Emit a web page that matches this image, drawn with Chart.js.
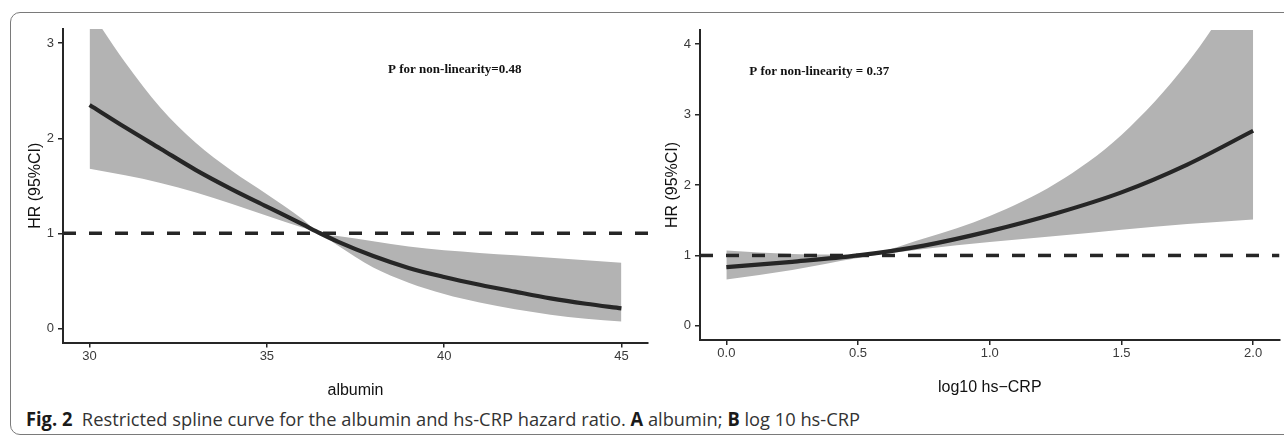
<!DOCTYPE html>
<html>
<head>
<meta charset="utf-8">
<script src="https://cdn.jsdelivr.net/npm/chart.js@4.4.1/dist/chart.umd.min.js"></script>
<style>
  html, body { margin: 0; padding: 0; background: #fff; }
  body { width: 1284px; height: 436px; position: relative; overflow: hidden; }
  #frame { position: absolute; left: 10px; top: 12px; width: 1300px; height: 421px;
           border: 1.5px solid #7a7a7a; border-radius: 10px; }
  #chartA { position: absolute; left: 0; top: 0; }
  #chartB { position: absolute; left: 656px; top: 0; }
  #caption { position: absolute; left: 26px; top: 407px; font-family: "Open Sans", sans-serif;
             font-size: 19px; line-height: 24px; color: #333; white-space: nowrap;
             transform-origin: left top; }
  #caption b { color: #1a1a1a; }
</style>
</head>
<body>
<div id="frame"></div>
<canvas id="chartA" width="656" height="400"></canvas>
<canvas id="chartB" width="628" height="400"></canvas>
<div id="caption"><b>Fig. 2</b>&nbsp; Restricted spline curve for the albumin and hs-CRP hazard ratio. <b>A</b> albumin; <b>B</b> log 10 hs-CRP</div>

<script>
// panel A: albumin
const albumin      = [30, 31, 32, 33, 34, 35, 36, 36.5, 37, 38, 39, 40, 41, 42, 43, 44, 45];
const albuminHR    = [2.35, 2.115, 1.89, 1.665, 1.465, 1.28, 1.095, 1.0, 0.912, 0.76, 0.635, 0.54, 0.458, 0.385, 0.315, 0.258, 0.21];
const albuminUpper = [3.35, 2.80, 2.32, 1.95, 1.66, 1.41, 1.15, 1.0, 0.97, 0.915, 0.86, 0.82, 0.793, 0.768, 0.742, 0.716, 0.69];
const albuminLower = [1.68, 1.61, 1.53, 1.43, 1.31, 1.185, 1.06, 1.0, 0.87, 0.64, 0.48, 0.36, 0.27, 0.20, 0.143, 0.10, 0.07];

// panel B: log10 hs-CRP
const crp      = [0, 0.25, 0.5, 0.75, 1.0, 1.25, 1.5, 1.75, 2.0];
const crpHR    = [0.835, 0.91, 1.0, 1.14, 1.345, 1.595, 1.895, 2.29, 2.77];
const crpUpper = [1.07, 1.02, 1.01, 1.24, 1.56, 2.02, 2.71, 3.73, 5.1];
const crpLower = [0.657, 0.795, 0.965, 1.09, 1.19, 1.275, 1.365, 1.445, 1.51];

// ticks
const albuminTicks = [30, 35, 40, 45];
const albuminTickLabels = ['30', '35', '40', '45'];
const hrTicksA = [0, 1, 2, 3];
const hrTickLabelsA = ['0', '1', '2', '3'];
const crpTicks = [0, 0.5, 1, 1.5, 2];
const crpTickLabels = ['0.0', '0.5', '1.0', '1.5', '2.0'];
const hrTicksB = [0, 1, 2, 3, 4];
const hrTickLabelsB = ['0', '1', '2', '3', '4'];

const refHR = 1;

const ink = '#262626';
const bandGrey = '#b3b3b3';
const tickColor = '#3a3a3a';

// text label inside the panel
const notePlugin = {
  id: 'note',
  afterDatasetsDraw(chart, args, o) {
    const { ctx, scales } = chart;
    ctx.save();
    ctx.font = 'bold 13px "Liberation Serif", "Times New Roman", serif';
    ctx.fillStyle = '#111';
    ctx.textAlign = o.align;
    ctx.textBaseline = 'middle';
    ctx.fillText(o.text, scales.x.getPixelForValue(o.x), scales.y.getPixelForValue(o.y));
    ctx.restore();
  }
};

function splineChart(id, xs, hr, upper, lower, o) {
  const pts = ys => xs.map((x, i) => ({ x: x, y: ys[i] }));
  const axisFont = { family: '"Liberation Sans", Arial, sans-serif', size: 13 };
  const titleFont = { family: '"Liberation Sans", Arial, sans-serif', size: 16 };

  return new Chart(document.getElementById(id), {
    type: 'line',
    data: {
      datasets: [
        { data: [{ x: o.xMin, y: refHR }, { x: o.xMax, y: refHR }], borderColor: ink,
          borderWidth: 3.5, borderDash: [13, 13], pointRadius: 0, tension: 0 },
        { data: pts(hr), borderColor: ink, borderWidth: 4.2, pointRadius: 0,
          cubicInterpolationMode: 'monotone' },
        { data: pts(upper), borderWidth: 0, borderColor: bandGrey, pointRadius: 0,
          fill: '+1', backgroundColor: bandGrey, cubicInterpolationMode: 'monotone' },
        { data: pts(lower), borderWidth: 0, borderColor: bandGrey, pointRadius: 0,
          cubicInterpolationMode: 'monotone' }
      ]
    },
    options: {
      responsive: false,
      animation: false,
      devicePixelRatio: 1,
      layout: { padding: { top: o.padTop, right: o.padRight, left: 0, bottom: 0 } },
      plugins: {
        legend: { display: false },
        tooltip: { enabled: false },
        note: o.note
      },
      scales: {
        x: {
          type: 'linear', min: o.xMin, max: o.xMax,
          afterBuildTicks: s => { s.ticks = o.xTicks.map(v => ({ value: v })); },
          afterFit: s => { s.height = o.xAxisHeight; },
          ticks: { font: axisFont, color: tickColor, padding: 1, maxRotation: 0,
                   callback: (v, i) => o.xTickLabels[i] },
          grid: { drawOnChartArea: false, tickLength: 5, color: ink, lineWidth: 1.5 },
          border: { color: ink, width: 2 },
          title: { display: true, text: o.xTitle, font: titleFont, color: '#111',
                   padding: { top: 0, bottom: o.xTitlePad } }
        },
        y: {
          type: 'linear', min: o.yMin, max: o.yMax,
          afterBuildTicks: s => { s.ticks = o.yTicks.map(v => ({ value: v })); },
          afterFit: s => { s.width = o.yAxisWidth; },
          ticks: { font: axisFont, color: tickColor, padding: 4,
                   callback: (v, i) => o.yTickLabels[i] },
          grid: { drawOnChartArea: false, tickLength: 5, color: ink, lineWidth: 1.5 },
          border: { color: ink, width: 2 },
          title: { display: true, text: 'HR (95%CI)', font: titleFont, color: '#111',
                   padding: { top: o.yTitlePad, bottom: 0 } }
        }
      }
    },
    plugins: [notePlugin]
  });
}

splineChart('chartA', albumin, albuminHR, albuminUpper, albuminLower, {
  xMin: 29.25, xMax: 45.75, yMin: -0.15, yMax: 3.15,
  xTicks: albuminTicks, xTickLabels: albuminTickLabels,
  yTicks: hrTicksA, yTickLabels: hrTickLabelsA,
  xTitle: 'albumin', xTitlePad: 0, yTitlePad: 26.4,
  padTop: 29, padRight: 8, yAxisWidth: 63, xAxisHeight: 57.5,
  note: { text: 'P for non-linearity=0.48', x: 40.3, y: 2.72, align: 'center' }
});

splineChart('chartB', crp, crpHR, crpUpper, crpLower, {
  xMin: -0.1, xMax: 2.1, yMin: -0.2, yMax: 4.2,
  xTicks: crpTicks, xTickLabels: crpTickLabels,
  yTicks: hrTicksB, yTickLabels: hrTickLabelsB,
  xTitle: 'log10 hs\u2212CRP', xTitlePad: 3, yTitlePad: 7.4,
  padTop: 30, padRight: 4.5, yAxisWidth: 44, xAxisHeight: 60,
  note: { text: 'P for non-linearity = 0.37', x: 0.087, y: 3.61, align: 'left' }
});

// squeeze the caption to the width it has in the figure
const cap = document.getElementById('caption');
const capWidth = cap.getBoundingClientRect().width;
cap.style.transform = 'scaleX(' + (834 / capWidth) + ')';
</script>
</body>
</html>
